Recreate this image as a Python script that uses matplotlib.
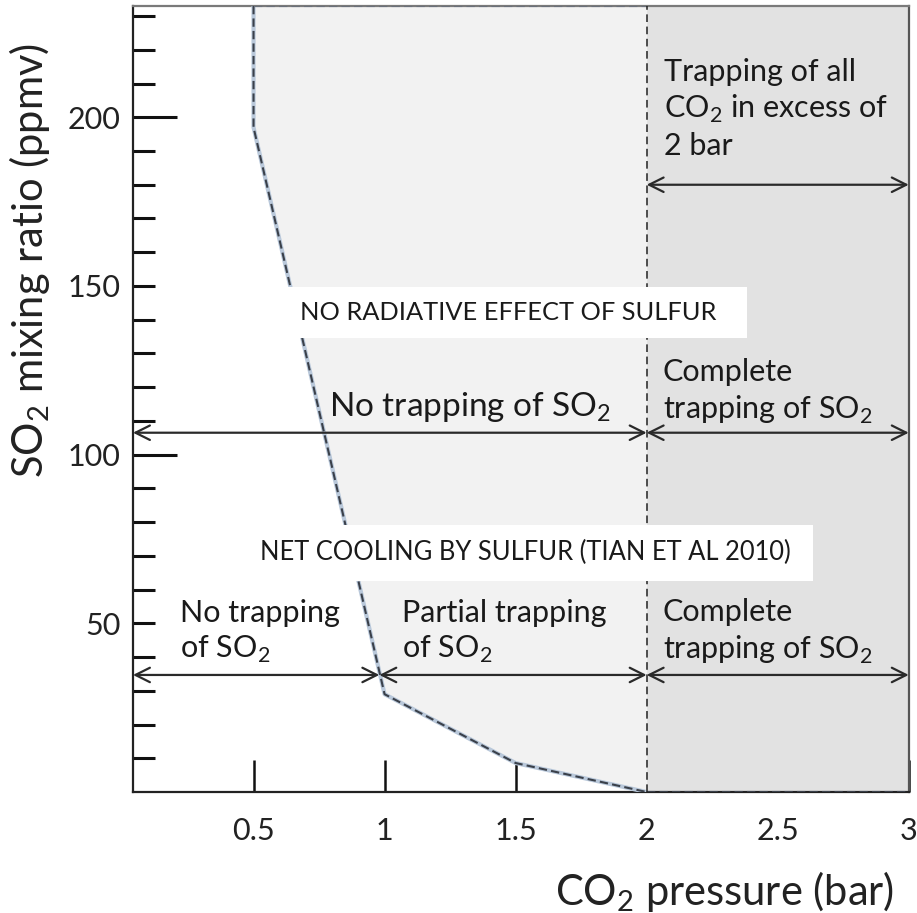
# SO2 / CO2 trapping regimes diagram
import numpy as np
import matplotlib.pyplot as plt
from matplotlib.patches import Rectangle

plt.rcParams['font.family'] = ['Lato', 'DejaVu Sans']
plt.rcParams['mathtext.fontset'] = 'custom'
plt.rcParams['mathtext.rm'] = 'Lato'

# boundary curve (CO2 pressure, SO2 mixing ratio)
curve_x = [0.5, 0.5, 1.0, 1.5, 2.0]
curve_y = [233, 197, 29, 8.6, 0]

x_ticks = [0.5, 1, 1.5, 2, 2.5, 3]
x_ticklabels = ['0.5', '1', '1.5', '2', '2.5', '3']
y_major = [100, 200]
y_minor = list(range(10, 240, 10))
y_minor_labels = {50: '50', 150: '150'}

xmin, xmax = 0.04, 3.0
ymin, ymax = 0, 233
x_split = 2.0
x_junction = 0.98

arrow_rows = {
    'top': 180,
    'mid': 106.5,
    'low': 34.7,
}

SUB2 = r'$_{\mathregular{2}}$'

fig = plt.figure(figsize=(9.17, 9.13), dpi=100)
ax = fig.add_axes([0.145, 0.1325, 0.846, 0.861])
ax.set_xlim(xmin, xmax)
ax.set_ylim(ymin, ymax)

### shaded regions
ax.axvspan(x_split, xmax, color='#e2e2e2', zorder=2, lw=0)
ax.fill_betweenx(curve_y, curve_x, x_split, color='#f2f2f2', zorder=2, lw=0)

### boundary lines
ax.plot(curve_x, curve_y, color='#b9c8da', lw=3, zorder=3, solid_capstyle='butt')
ax.plot(curve_x, curve_y, color='#3a404a', lw=1.5, ls=(0, (4, 2)), zorder=3.1)
ax.plot([0.5, x_split], [ymax, ymax], color='#6a707a', lw=1.5, ls=(0, (4, 2)), zorder=3.1)
ax.plot([x_split, xmax], [ymin, ymin], color='#3a404a', lw=1.5, ls=(0, (4, 2)), zorder=3.1)
ax.axvline(x_split, color='#222222', lw=1.1, ls=(0, (5, 3)), zorder=3.1)

### arrows
def arrow(x0, x1, y):
    ax.annotate('', xy=(x1, y), xytext=(x0, y),
                arrowprops=dict(arrowstyle='<->', lw=1.6, color='#2a2a2a',
                                shrinkA=0, shrinkB=0, mutation_scale=26),
                zorder=4)

arrow(x_split, xmax, arrow_rows['top'])
arrow(xmin, x_split, arrow_rows['mid'])
arrow(x_split, xmax, arrow_rows['mid'])
arrow(xmin, x_junction, arrow_rows['low'])
arrow(x_junction, x_split, arrow_rows['low'])
arrow(x_split, xmax, arrow_rows['low'])

### white label boxes
ax.add_patch(Rectangle((0.631, 134.7), 1.751, 14.9, facecolor='white',
                       edgecolor='none', zorder=4.5))
ax.add_patch(Rectangle((0.498, 62.6), 2.136, 16.6, facecolor='white',
                       edgecolor='none', zorder=4.5))

### text
tcol = '#1a1a1a'
ax.text(0.677, 142.1, 'NO RADIATIVE EFFECT OF SULFUR', fontsize=18.3, color=tcol,
        ha='left', va='center', zorder=5)
ax.text(0.524, 70.9, 'NET COOLING BY SULFUR (TIAN ET AL 2010)', fontsize=18.4,
        color=tcol, ha='left', va='center', zorder=5)

fs = 22
ls = 1.3
ax.text(1.325, 114, 'No trapping of SO' + SUB2, fontsize=24, color=tcol,
        ha='center', va='center', zorder=5)
ax.text(2.061, 118.5, 'Complete\ntrapping of SO' + SUB2, fontsize=fs, color=tcol,
        ha='left', va='center', zorder=5, linespacing=ls)
ax.text(2.068, 202.5, 'Trapping of all\nCO' + SUB2 + ' in excess of\n2 bar', fontsize=fs,
        color=tcol, ha='left', va='center', zorder=5, linespacing=ls)
ax.text(0.219, 47.5, 'No trapping\nof SO' + SUB2, fontsize=fs, color=tcol,
        ha='left', va='center', zorder=5, linespacing=ls)
ax.text(1.066, 47.5, 'Partial trapping\nof SO' + SUB2, fontsize=fs, color=tcol,
        ha='left', va='center', zorder=5, linespacing=ls)
ax.text(2.061, 47.5, 'Complete\ntrapping of SO' + SUB2, fontsize=fs, color=tcol,
        ha='left', va='center', zorder=5, linespacing=ls)

### axes / ticks
for side in ['left', 'bottom']:
    ax.spines[side].set_color('#222222')
    ax.spines[side].set_linewidth(1.6)
ax.spines['top'].set_color('#7a7a7a')
ax.spines['top'].set_linewidth(1.6)
ax.spines['right'].set_color('#555555')
ax.spines['right'].set_linewidth(1.6)

ax.set_xticks(x_ticks, x_ticklabels)
ax.tick_params(axis='x', direction='in', length=23, width=1.8, pad=18,
               labelsize=22, colors='#111111', labelcolor='#222222')
ax.set_yticks(y_major, [str(v) for v in y_major])
ax.set_yticks(y_minor, [y_minor_labels.get(v, '') for v in y_minor], minor=True)
ax.tick_params(axis='y', which='major', direction='in', length=32, width=2.2,
               pad=9, labelsize=22, colors='#111111', labelcolor='#222222')
ax.tick_params(axis='y', which='minor', direction='in', length=16, width=2.2,
               pad=9, labelsize=22, colors='#111111', labelcolor='#222222')

ax.set_ylabel('SO' + SUB2 + ' mixing ratio (ppmv)', fontsize=30, color='#222222')
ax.yaxis.set_label_coords(-0.104, 0.676)
ax.set_xlabel('CO' + SUB2 + ' pressure (bar)', fontsize=30, color='#222222')
ax.xaxis.set_label_coords(0.763, -0.098)

fig.savefig('out.png', dpi=100)
